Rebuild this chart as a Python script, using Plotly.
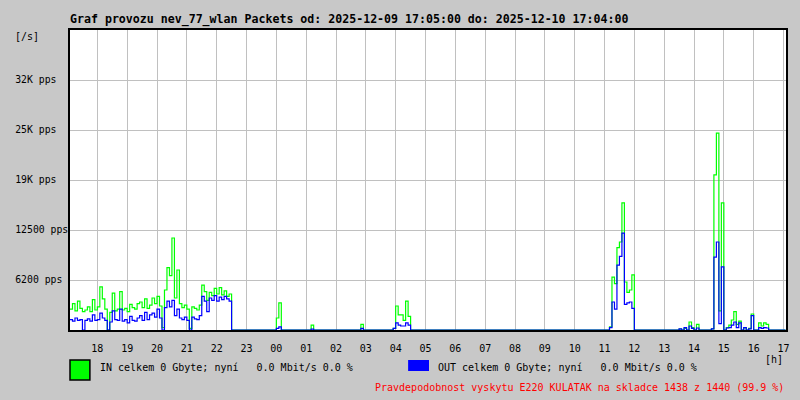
import plotly.graph_objects as go

# minutes since 2025-12-09 17:05 (5-minute samples)
minutes = [
    0, 5, 10, 15, 20, 25, 30, 35, 40, 45, 50, 55, 60, 65, 70, 75, 80, 85, 90, 95,
    100, 105, 110, 115, 120, 125, 130, 135, 140, 145, 150, 155, 160, 165, 170, 175,
    180, 185, 190, 195, 200, 205, 210, 215, 220, 225, 230, 235, 240, 245, 250, 255,
    260, 265, 270, 275, 280, 285, 290, 295, 300, 305, 310, 315, 320, 325,
    415, 420, 425, 485, 490, 585, 590,
    650, 655, 660, 665, 670, 675, 680, 685,
    1085, 1090, 1095, 1100, 1105, 1110, 1115, 1120, 1125, 1130, 1135,
    1225, 1230, 1235, 1240, 1245, 1250, 1255, 1260, 1265,
    1290, 1295, 1300, 1305, 1310, 1315,
    1320, 1325, 1330, 1335, 1340, 1345, 1350, 1355, 1360, 1365, 1370, 1375,
    1385, 1390, 1395, 1400, 1405, 1439,
]

in_pps = [
    2600, 3300, 2400, 3600, 2700, 2300, 2500, 2900, 2300, 3800, 2500, 2900, 5400, 3900, 2600, 0, 2200, 4600, 2400, 2600,
    4800, 2500, 2700, 2300, 3200, 2800, 2600, 3300, 3500, 2800, 3900, 2700, 3100, 4000, 3300, 4200,
    3000, 300, 5000, 7800, 6800, 11500, 4000, 7500, 3300, 2800, 3100, 2600, 200, 2900, 2700, 2500,
    3100, 5600, 4800, 3700, 4700, 4300, 5200, 4500, 5300, 4400, 4900, 4200, 4500, 0,
    1500, 3400, 0, 600, 0, 700, 0,
    200, 3000, 1900, 1900, 1200, 3600, 1700, 0,
    400, 6600, 5800, 10300, 11000, 15900, 6000, 4700, 5000, 6900, 0,
    100, 0, 200, 0, 1000, 300, 0, 700, 0,
    150, 19400, 24600, 2400, 15900, 0,
    300, 600, 1250, 2300, 700, 1100, 0, 300, 0, 200, 2000, 0,
    900, 500, 900, 700, 0, 0,
]

out_pps = [
    1300, 1100, 1500, 1200, 1300, 0, 1200, 1400, 1100, 1900, 1200, 1300, 2100, 1500, 1200, 0, 1000, 2400, 1300, 1200,
    2600, 1100, 1300, 900, 1700, 1200, 1100, 1500, 1800, 1200, 2200, 1300, 1900, 2100, 1600, 2600,
    1500, 0, 2800, 3600, 2900, 3700, 1800, 2600, 1500, 1300, 1600, 1200, 0, 1600, 1400, 1300,
    1800, 4200, 3600, 2300, 4000, 3700, 4300, 3600, 4100, 3800, 4200, 3900, 3600, 0,
    200, 400, 0, 100, 0, 200, 0,
    200, 900, 600, 500, 500, 900, 600, 0,
    300, 3500, 2600, 8100, 9200, 12100, 3200, 3400, 3500, 2700, 0,
    150, 0, 300, 0, 500, 200, 0, 250, 0,
    150, 9100, 11000, 800, 7900, 0,
    250, 300, 600, 1000, 300, 900, 0, 300, 0, 150, 1800, 0,
    300, 200, 300, 250, 0, 0,
]

hour_ticks = [55 + 60 * k for k in range(24)]
hour_labels = ["18", "19", "20", "21", "22", "23", "00", "01", "02", "03", "04", "05",
               "06", "07", "08", "09", "10", "11", "12", "13", "14", "15", "16", "17"]

y_ticks = [6250, 12500, 18750, 25000, 31250]
y_labels = ["6200 pps", "12500 pps", "19K pps", "25K pps", "32K pps"]

title_text = "Graf provozu nev_77_wlan Packets od: 2025-12-09 17:05:00 do: 2025-12-10 17:04:00"
in_text = "IN celkem 0 Gbyte; nyní   0.0 Mbit/s 0.0 %"
out_text = "OUT celkem 0 Gbyte; nyní   0.0 Mbit/s 0.0 %"
red_text = "Pravdepodobnost vyskytu E220 KULATAK na skladce 1438 z 1440 (99.9 %)"

FONT = "DejaVu Sans Mono, Liberation Mono, monospace"
BG = "#c8c8c8"

L, R, T, B = 70, 10, 30, 70
W, H = 800, 400
PW, PH = W - L - R, H - T - B


def px(x):
    return (x - L) / PW


def py(y):
    return (H - B - y) / PH


fig = go.Figure()
fig.add_trace(go.Scatter(x=minutes, y=in_pps, mode="lines", line=dict(color="#00ff00", width=1.2, shape="hv"),
                         name="IN", showlegend=False))
fig.add_trace(go.Scatter(x=minutes, y=out_pps, mode="lines", line=dict(color="#0000ff", width=1.2, shape="hv"),
                         name="OUT", showlegend=False))

pad_labels = [lab + "\u00a0" * (9 - len(lab)) for lab in y_labels]

fig.update_layout(
    width=W, height=H,
    margin=dict(l=L, r=R, t=T, b=B),
    paper_bgcolor=BG, plot_bgcolor="white",
    font=dict(family=FONT, size=10, color="black"),
    xaxis=dict(range=[0, 1440], tickvals=hour_ticks, ticktext=hour_labels,
               showgrid=True, gridcolor="#c0c0c0", gridwidth=1,
               showline=True, linecolor="black", linewidth=1.5, mirror=True,
               ticks="", ticklabelstandoff=8, zeroline=False,
               tickfont=dict(family=FONT, size=10)),
    yaxis=dict(range=[0, 37500], tickvals=y_ticks, ticktext=pad_labels,
               showgrid=True, gridcolor="#c0c0c0", gridwidth=1,
               showline=True, linecolor="black", linewidth=1.5, mirror=True,
               ticks="", ticklabelstandoff=-2, zeroline=False,
               tickfont=dict(family=FONT, size=9.8)),
)

ann = [
    dict(text="<b>" + title_text + "</b>", x=px(68), y=py(19), xanchor="left", yanchor="middle",
         font=dict(family=FONT, size=11.6)),
    dict(text="[/s]", x=px(13), y=py(37), xanchor="left", yanchor="middle"),
    dict(text="[h]", x=px(789), y=py(359), xanchor="right", yanchor="middle"),
    dict(text=in_text, x=px(98), y=py(367), xanchor="left", yanchor="middle"),
    dict(text=out_text, x=px(438), y=py(367), xanchor="left", yanchor="middle"),
    dict(text=red_text, x=px(790), y=py(387), xanchor="right", yanchor="middle",
         font=dict(family=FONT, size=10, color="#ff0000")),
]
for a in ann:
    a.update(xref="paper", yref="paper", showarrow=False)
    a.setdefault("font", dict(family=FONT, size=10, color="black"))
fig.update_layout(annotations=ann)

fig.add_shape(type="rect", xref="paper", yref="paper", x0=px(70), x1=px(90), y0=py(360), y1=py(380),
              fillcolor="#00ff00", line=dict(color="black", width=1.5))
fig.add_shape(type="rect", xref="paper", yref="paper", x0=px(410), x1=px(431), y0=py(360), y1=py(371),
              fillcolor="#0000ff", line=dict(width=0))

fig.write_html("out.html", config={"displayModeBar": False},
               post_script="document.body.style.margin='0';")
